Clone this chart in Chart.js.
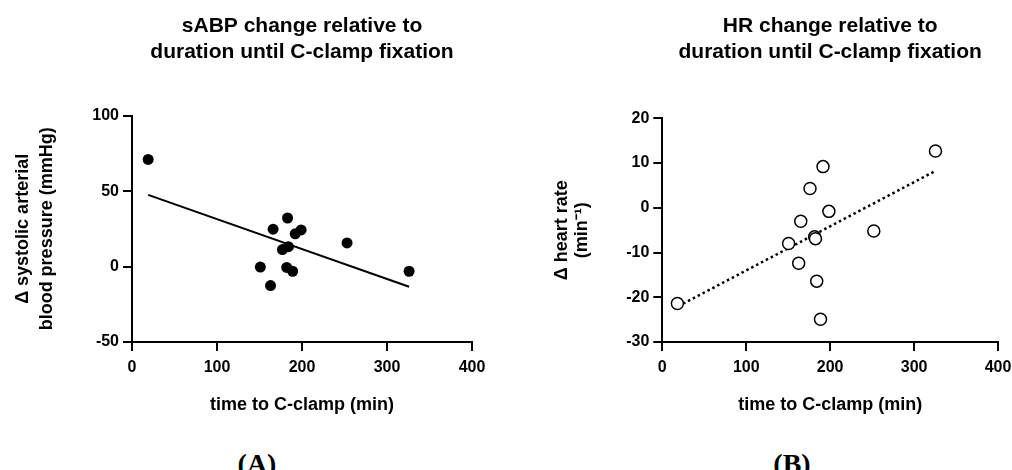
<!DOCTYPE html>
<html>
<head>
<meta charset="utf-8">
<script src="https://cdn.jsdelivr.net/npm/chart.js"></script>
<style>
    html, body { margin: 0; padding: 0; background: #fff; width: 1012px; height: 470px; overflow: hidden; }
    #wrap { position: relative; width: 1012px; height: 470px; overflow: hidden; }
    canvas { position: absolute; top: 0; }
    #chart-sabp { left: 0; }
    #chart-hr { left: 506px; }
    .panel-label {
        position: absolute; top: 450px; width: 80px; text-align: center;
        font: bold 28px 'Liberation Serif', 'Times New Roman', serif; line-height: 1; color: #000;
    }
</style>
</head>
<body>
<div id="wrap">
    <canvas id="chart-sabp" width="506" height="440"></canvas>
    <canvas id="chart-hr" width="540" height="440"></canvas>
    <div class="panel-label" style="left:217px">(A)</div>
    <div class="panel-label" style="left:752px">(B)</div>
</div>

<script>
// Data -------------------------------------
// --> Values

// Panel A: systolic arterial blood pressure change
const sabp_time = [19, 151, 163, 166, 177, 182, 183, 184, 189, 192, 199, 253, 326]
const sabp_change = [71, -0.3, -12.6, 24.8, 11.3, -0.6, 32.2, 13.2, -3.1, 21.7, 24.3, 15.7, -3.1]
const sabp_fit_x = [19, 326]
const sabp_fit_y = [47.5, -13.4]

// Panel B: heart rate change
const hr_time = [18, 150.5, 162.5, 165, 176, 181.5, 182.5, 184, 188.5, 191.5, 198.5, 252, 325.5]
const hr_change = [-21.4, -8.0, -12.4, -3.0, 4.3, -6.5, -6.9, -16.4, -24.9, 9.2, -0.8, -5.2, 12.7]
const hr_fit_x = [19, 325]
const hr_fit_y = [-22.0, 8.2]

// Axis ticks
const time_ticks = [0, 100, 200, 300, 400]
const sabp_ticks = [-50, 0, 50, 100]
const hr_ticks = [-30, -20, -10, 0, 10, 20]

// Style settings -------------------------------------

const font_family = "'Liberation Sans', Arial, Helvetica, sans-serif"
const color_black = '#000000'

Chart.defaults.color = color_black
Chart.defaults.font.family = font_family

// Helpers -------------------------------------

// zip two arrays into {x, y} points
function to_points(xs, ys) {
    return xs.map(function (x, i) { return {x: x, y: ys[i]} })
}

// force ticks to exactly the listed values
function fixed_ticks(values) {
    return function (scale) {
        scale.ticks = values.map(function (v) { return {value: v} })
    }
}

// title centred over the plot area (the built-in title centres on the whole canvas)
const centered_title = {
    id: 'centered_title',
    afterDraw: function (chart, args, opts) {
        const ctx = chart.ctx
        const area = chart.chartArea
        const x = (area.left + area.right) / 2
        ctx.save()
        ctx.font = 'bold 21px ' + font_family
        ctx.fillStyle = color_black
        ctx.textAlign = 'center'
        ctx.textBaseline = 'middle'
        opts.lines.forEach(function (line, i) {
            ctx.fillText(line, x, opts.top + i * opts.line_height)
        })
        ctx.restore()
    }
}

function make_axis(opts) {
    return {
        type: 'linear',
        min: opts.ticks[0],
        max: opts.ticks[opts.ticks.length - 1],
        afterBuildTicks: fixed_ticks(opts.ticks),
        afterFit: opts.fit,
        grid: {
            display: true,
            drawOnChartArea: false,
            drawTicks: true,
            tickLength: 9,
            color: color_black,
            lineWidth: 2,
        },
        border: {color: color_black, width: 2},
        ticks: {
            font: {size: 16, weight: 'bold'},
            color: color_black,
            padding: opts.tick_pad,
        },
        title: {
            display: true,
            text: opts.title,
            font: {size: 18, weight: 'bold', lineHeight: opts.title_lh || 1.2},
            color: color_black,
            padding: opts.title_pad,
        },
    }
}

function make_chart(canvas_id, cfg) {
    const context = document.getElementById(canvas_id).getContext('2d')
    return new Chart(context, {
        type: 'scatter',
        data: {
            datasets: [{
                    label: 'Data',
                    data: to_points(cfg.x, cfg.y),
                    pointRadius: cfg.point_radius,
                    pointBorderWidth: cfg.point_border,
                    pointBackgroundColor: cfg.point_fill,
                    pointBorderColor: color_black,
                    order: 0,
                },
                {
                    label: 'Fit',
                    data: to_points(cfg.fit_x, cfg.fit_y),
                    showLine: true,
                    pointRadius: 0,
                    borderColor: color_black,
                    borderWidth: cfg.line_width,
                    borderDash: cfg.dash,
                    order: 1,
                },
            ]
        },
        options: {
            responsive: false,
            animation: false,
            layout: {padding: {left: 0, right: cfg.pad_right, top: cfg.pad_top, bottom: 0}},
            plugins: {
                legend: {display: false},
                tooltip: {enabled: false},
                title: {display: false},
                centered_title: {lines: cfg.title, top: 26, line_height: 26},
            },
            scales: {
                x: make_axis({
                    ticks: time_ticks,
                    title: 'time to C-clamp (min)',
                    tick_pad: 7,
                    title_pad: {top: 0, bottom: 24},
                    fit: function (scale) { scale.height = 98 },
                }),
                y: make_axis({
                    ticks: cfg.y_ticks,
                    title: cfg.y_title,
                    tick_pad: 4,
                    title_pad: {top: cfg.y_title_pad, bottom: 0},
                    title_lh: cfg.y_title_lh,
                    fit: function (scale) { scale.width = cfg.y_width },
                }),
            },
        },
        plugins: [centered_title],
    })
}

// Chart generation -------------------------------------

const chart_sabp = make_chart('chart-sabp', {
    x: sabp_time, y: sabp_change,
    fit_x: sabp_fit_x, fit_y: sabp_fit_y,
    point_radius: 5.5, point_border: 0, point_fill: color_black,
    line_width: 2, dash: [],
    title: ['sABP change relative to', 'duration until C-clamp fixation'],
    y_ticks: sabp_ticks,
    y_title: ['\u0394 systolic arterial', 'blood pressure (mmHg)'],
    y_title_pad: 11, y_title_lh: 1.333,
    y_width: 132,
    pad_top: 115.7,
    pad_right: 34,
})

const chart_hr = make_chart('chart-hr', {
    x: hr_time, y: hr_change,
    fit_x: hr_fit_x, fit_y: hr_fit_y,
    point_radius: 6, point_border: 1.5, point_fill: '#ffffff',
    line_width: 2.5, dash: [2.5, 3],
    title: ['HR change relative to', 'duration until C-clamp fixation'],
    y_ticks: hr_ticks,
    y_title: ['\u0394 heart rate', '(min\u207B\u00B9)'],
    y_title_pad: 45.7, y_title_lh: 1.11,
    y_width: 156.3,
    pad_top: 118.3,
    pad_right: 48,
})
</script>
</body>
</html>
